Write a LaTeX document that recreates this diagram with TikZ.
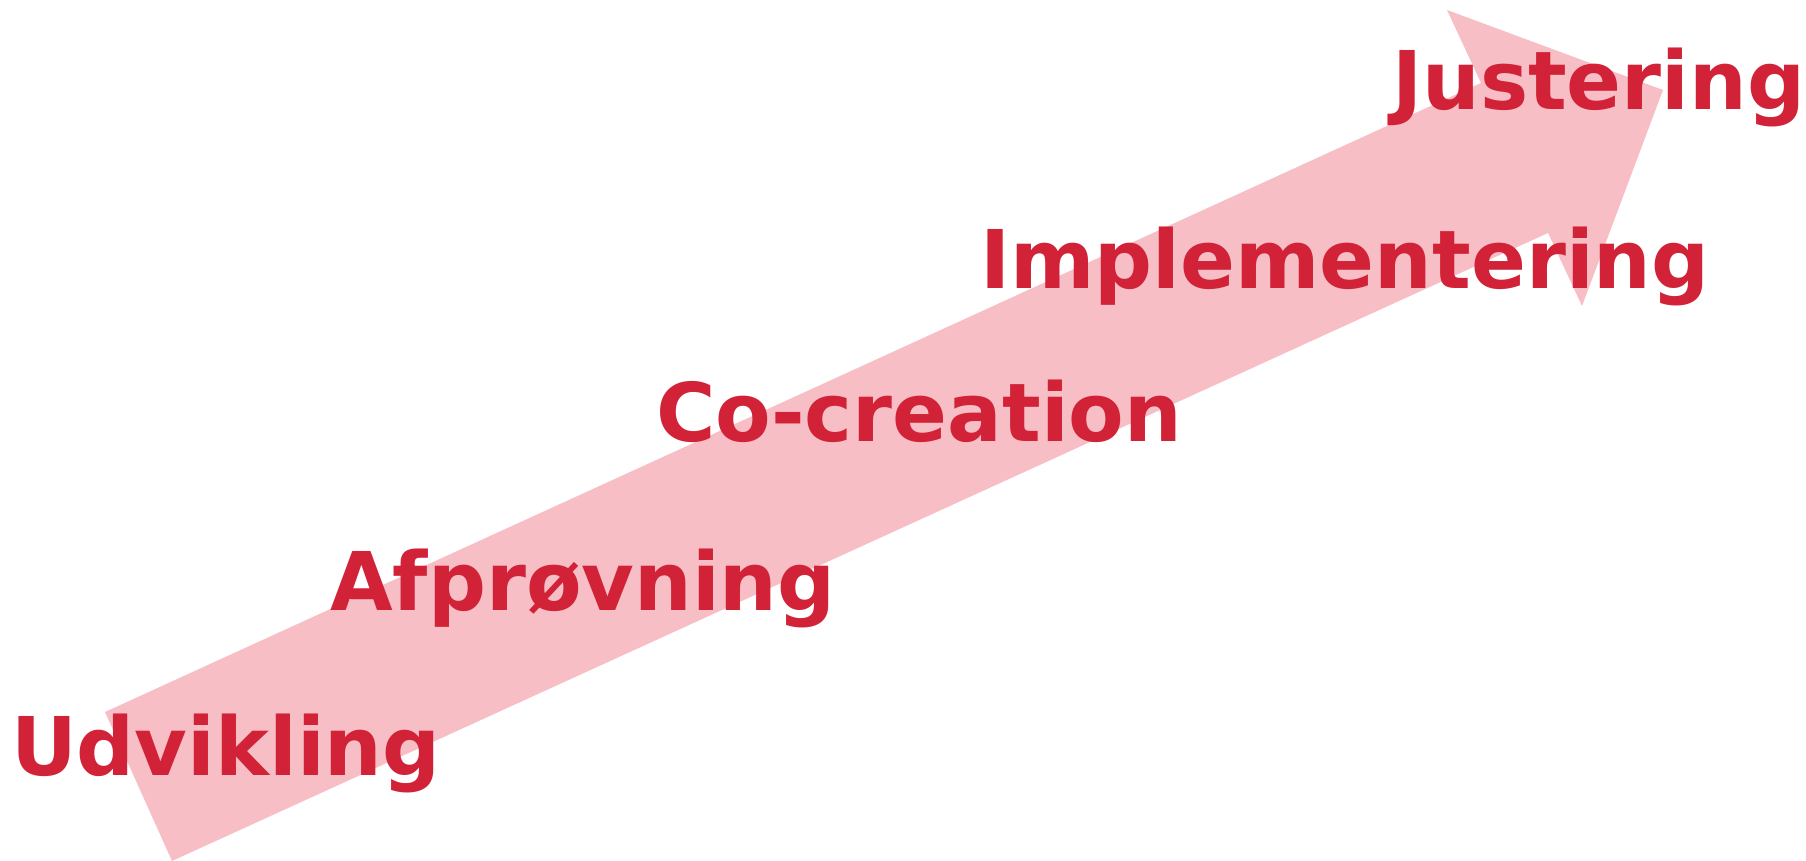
\documentclass[tikz,border=0pt]{standalone}
\usepackage{fontspec}
\setmainfont{DejaVu Sans}
\definecolor{stepred}{HTML}{D22238}
\definecolor{arrowpink}{HTML}{F7BEC5}
\begin{document}
\begin{tikzpicture}[x=1pt,y=-1pt,
  lbl/.style={anchor=base west,inner sep=0pt,text=stepred,font=\fontsize{81}{90}\selectfont\bfseries}]
\useasboundingbox (0,0) rectangle (1806,861);
\fill[arrowpink] (105,712) -- (1481,83) -- (1447,10) -- (1663,90) -- (1582,306) -- (1548,233) -- (172,861) -- cycle;
\node[lbl] (udv) at (11,775) {Udvikling};
\node[lbl] (afp) at (330,610) {Afprøvning};
\node[lbl] (cocr) at (656,441) {Co-creation};
\node[lbl] (impl) at (980,288) {Implementering};
\node[lbl] (just) at (1392,110) {Justering};
\end{tikzpicture}
\end{document}
